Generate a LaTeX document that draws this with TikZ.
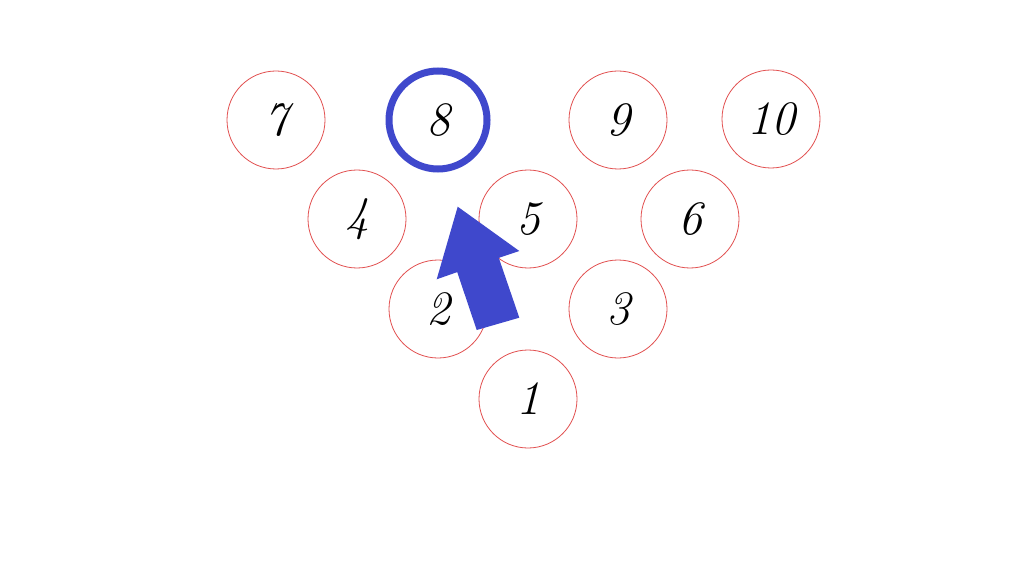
\documentclass[tikz,border=0pt]{standalone}
\definecolor{pinred}{RGB}{226,80,80}
\definecolor{markblue}{RGB}{63,72,204}
\begin{document}
\begin{tikzpicture}[x=1pt,y=-1pt,
  pin/.style={circle,draw=pinred,line width=0.8pt,minimum size=98pt,inner sep=0pt,
    font=\fontsize{48}{48}\selectfont\itshape},
  marked/.style={pin,draw=markblue,line width=7pt,minimum size=98pt}]
\useasboundingbox[fill=white] (0,0) rectangle (1024,577);
\node[pin] (p7) at (276,120) {7};
\node[marked] (p8) at (438,120) {8};
\node[pin] (p9) at (618,120) {9};
\node[pin] (p10) at (771,119) {10};
\node[pin] (p4) at (357,219) {4};
\node[pin] (p5) at (528,219) {5};
\node[pin] (p6) at (690,219) {6};
\node[pin] (p2) at (438,309) {2};
\node[pin] (p3) at (618,309) {3};
\node[pin] (p1) at (528,399) {1};
\fill[markblue] (457.7,206.7) -- (519.3,251) -- (498.8,257.9) -- (519.3,317.7)
  -- (476.7,330) -- (457.2,272.1) -- (436.7,279.3) -- cycle;
\end{tikzpicture}
\end{document}
